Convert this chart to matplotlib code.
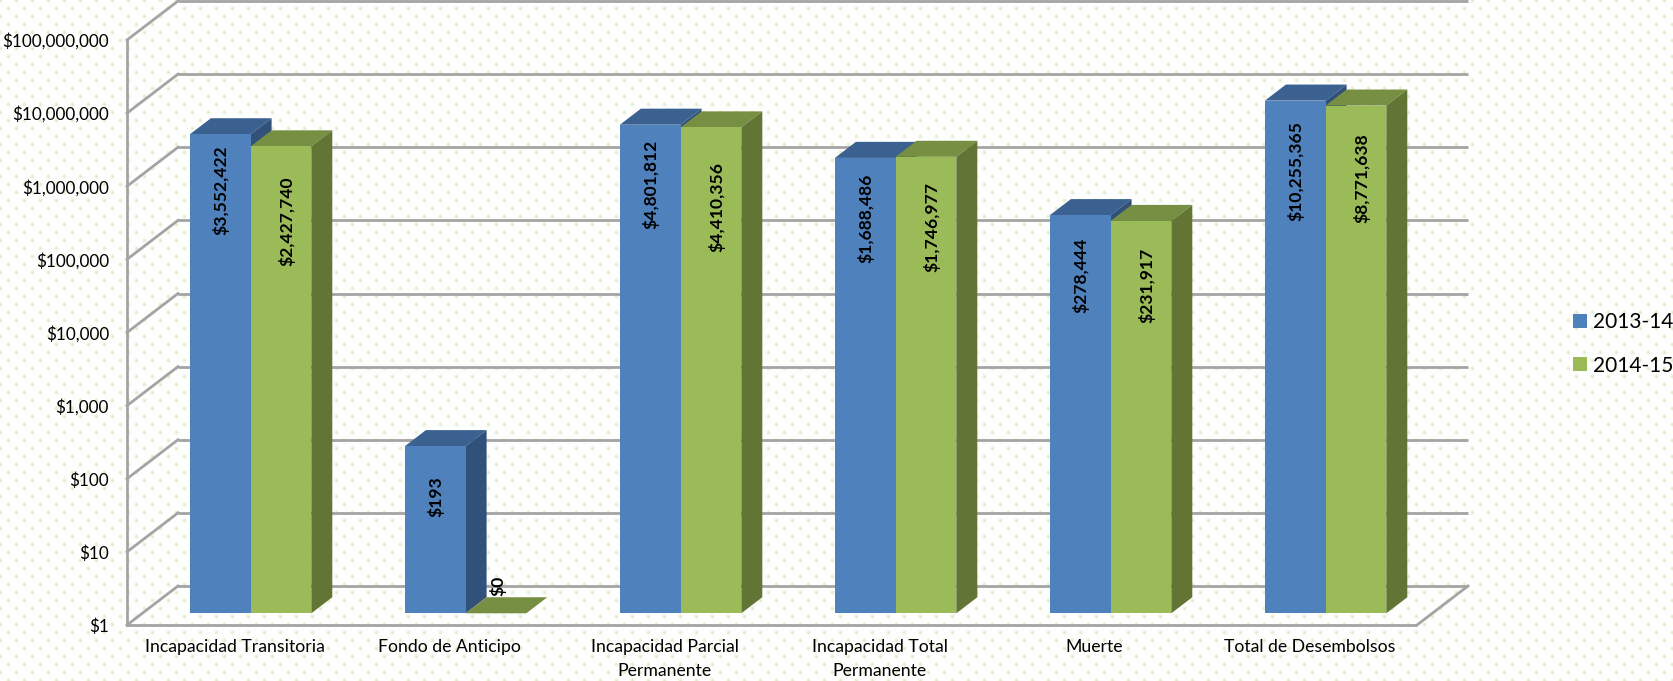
import numpy as np
import matplotlib
matplotlib.use("Agg")
import matplotlib.pyplot as plt
from matplotlib.patches import Polygon
from matplotlib.transforms import Affine2D

categories = ["Incapacidad Transitoria", "Fondo de Anticipo", "Incapacidad Parcial\nPermanente",
              "Incapacidad Total\nPermanente", "Muerte", "Total de Desembolsos"]
series_names = ["2013-14", "2014-15"]
values_2013 = [3552422, 193, 4801812, 1688486, 278444, 10255365]
values_2014 = [2427740, 0, 4410356, 1746977, 231917, 8771638]
tick_values = [1, 10, 100, 1000, 10000, 100000, 1000000, 10000000, 100000000]

W, H = 1674, 681
plt.rcParams["font.family"] = ["Lato", "DejaVu Sans"]
fig = plt.figure(figsize=(W / 100, H / 100), dpi=100, facecolor="white")

# background dot texture
yy, xx = np.mgrid[0:H, 0:W]
px, py = 16.0, 16.0
u = (xx % px) - px / 2
v = (yy % py) - py / 2
u2 = ((xx + px / 2) % px) - px / 2
v2 = ((yy + py / 2) % py) - py / 2
d = np.minimum(u ** 2 + v ** 2, u2 ** 2 + v2 ** 2)
a = 0.6 * np.exp(-d / 3.5)
tex = np.ones((H, W, 3))
dot = np.array([0.80, 0.87, 0.66])
for c in range(3):
    tex[:, :, c] = 1 - a * (1 - dot[c])
fig.figimage(tex, 0, 0, zorder=-5, origin="upper")

# front plane of the 3D box
L, R, T, B = 127, 1417, 40, 625
ax = fig.add_axes([L / W, 1 - B / H, (R - L) / W, (B - T) / H])
ax.patch.set_alpha(0)
ax.set_yscale("log")
ax.set_ylim(1, 1e8)
ax.set_xlim(0, 6)
for s in ax.spines.values():
    s.set_visible(False)

WALL_DX, WALL_DY = 51, 39
BAR_D0 = 0.30            # depth of the bars' front face in the box
BAR_D1 = 0.30 + 21 / 51  # depth of their back face


def depth(d):
    return ax.transData + Affine2D().translate(WALL_DX * d, WALL_DY * d)


def proj(x, val, d):
    return depth(d).transform((x, val))


GRID = "#A4A4A4"
LW = 2.0
for t in tick_values:
    ax.plot([0, 6], [t, t], color=GRID, lw=LW, transform=depth(1), clip_on=False, zorder=1,
            solid_capstyle="butt")
    p0, p1 = proj(0, t, 0), proj(0, t, 1)
    ax.plot([p0[0], p1[0]], [p0[1], p1[1]], color=GRID, lw=LW, transform=None, clip_on=False, zorder=1)
ax.plot([0, 0], [1, 1e8], color=GRID, lw=LW, clip_on=False, zorder=1)
ax.plot([0, 6], [1, 1], color=GRID, lw=LW, clip_on=False, zorder=1, solid_capstyle="butt")
p0, p1 = proj(6, 1, 0), proj(6, 1, 1)
ax.plot([p0[0], p1[0]], [p0[1], p1[1]], color=GRID, lw=LW, transform=None, clip_on=False, zorder=1)

width = 60.7 / 215
shift = 0.8 / 215
front = ["#4F81BD", "#9BBB59"]
side = ["#31517A", "#637534"]
top = ["#3A6190", "#768F42"]
offsets = [[56, 50, 60, 60, 60, 70], [75, 0, 80, 70, 64, 72.5]]
label_dx = [0.5, 5.5]

handles = []
for si, vals in enumerate([values_2013, values_2014]):
    xs = np.arange(6) + 0.5 + (si - 1) * width + shift
    shown = [max(x, 1) for x in vals]
    bars = ax.bar(xs, [s - 1 for s in shown], width=width, bottom=1, align="edge",
                  color=front[si], transform=depth(BAR_D0), clip_on=False, zorder=3 + si * 0.1,
                  linewidth=0, label=series_names[si])
    handles.append(bars)
    for i, (x, val) in enumerate(zip(xs, shown)):
        a0 = proj(x, val, BAR_D0); b0 = proj(x + width, val, BAR_D0)
        a1 = proj(x, val, BAR_D1); b1 = proj(x + width, val, BAR_D1)
        c0 = proj(x + width, 1, BAR_D0); c1 = proj(x + width, 1, BAR_D1)
        ax.add_patch(Polygon([a0, b0, b1, a1], closed=True, facecolor=top[si], edgecolor="none",
                             transform=None, clip_on=False, zorder=2.9 + si * 0.1))
        ax.add_patch(Polygon([b0, b1, c1, c0], closed=True, facecolor=side[si], edgecolor="none",
                             transform=None, clip_on=False, zorder=2.9 + si * 0.1))
        label = "${:,}".format(vals[i])
        if vals[i] == 0:
            ax.annotate(label, xy=a1, xycoords="figure pixels", xytext=(11, 11),
                        textcoords="offset pixels", rotation=90, ha="center", va="center",
                        fontsize=12.6, fontweight="bold", color="black", zorder=2.85,
                        annotation_clip=False)
        else:
            tx = (a0[0] + b0[0]) / 2 + label_dx[si]
            ax.annotate(label, xy=(tx, a0[1]), xycoords="figure pixels", xytext=(0, -offsets[si][i]),
                        textcoords="offset pixels", rotation=90, ha="center", va="center",
                        fontsize=12.6, fontweight="bold", color="black", zorder=5,
                        annotation_clip=False)

ax.set_xticks(np.arange(6) + 0.5)
ax.set_xticklabels(categories, fontsize=12.7, linespacing=1.6, color="black")
ax.tick_params(axis="x", length=0, pad=10)
ax.set_yticks(tick_values)
ax.set_yticklabels(["${:,}".format(t) for t in tick_values], fontsize=12.3, color="black")
ax.tick_params(axis="y", which="major", length=0, pad=13)
ax.tick_params(axis="y", which="minor", length=0, labelleft=False)

leg = fig.legend(handles=handles, labels=series_names, loc="upper left",
                 bbox_to_anchor=(1573 / W, 1 - 312.5 / H), bbox_transform=fig.transFigure,
                 frameon=False, fontsize=15, handlelength=0.67, handleheight=0.67,
                 handletextpad=0.3, labelspacing=1.11, borderpad=0, borderaxespad=0)

fig.savefig("out.png", dpi=100)
